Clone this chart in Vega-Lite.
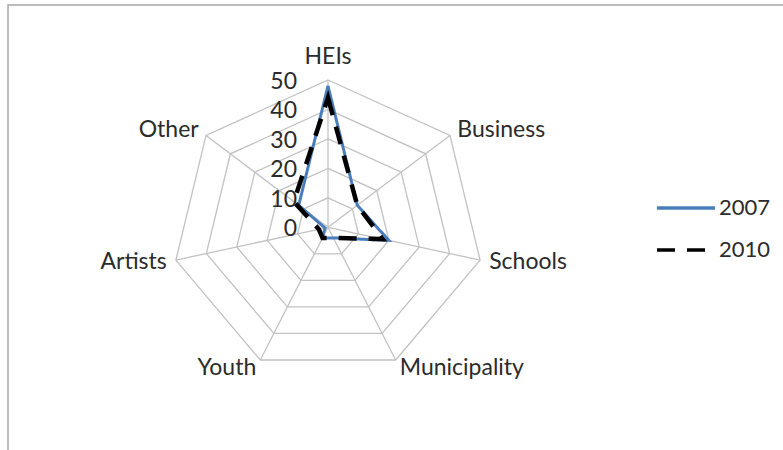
{
  "$schema": "https://vega.github.io/schema/vega-lite/v6.json",
  "width": 790,
  "height": 460,
  "autosize": "none",
  "padding": {"left": 8, "top": 5, "right": 0, "bottom": 0},
  "config": {
    "view": {"stroke": "#a6a6a6", "strokeWidth": 1.5},
    "font": "Lato",
    "text": {"font": "Lato", "fontSize": 23, "color": "#2b2b2b"}
  },
  "datasets": {
    "series": [
      {"cat": "HEIs", "year": "2007", "value": 48},
      {"cat": "Business", "year": "2007", "value": 12},
      {"cat": "Schools", "year": "2007", "value": 20},
      {"cat": "Municipality", "year": "2007", "value": 4},
      {"cat": "Youth", "year": "2007", "value": 4},
      {"cat": "Artists", "year": "2007", "value": 1},
      {"cat": "Other", "year": "2007", "value": 12},
      {"cat": "HEIs", "year": "2010", "value": 44},
      {"cat": "Business", "year": "2010", "value": 12},
      {"cat": "Schools", "year": "2010", "value": 18},
      {"cat": "Municipality", "year": "2010", "value": 4},
      {"cat": "Youth", "year": "2010", "value": 4},
      {"cat": "Artists", "year": "2010", "value": 3},
      {"cat": "Other", "year": "2010", "value": 14}
    ],
    "cats": [
      {"cat": "HEIs", "value": 50},
      {"cat": "Business", "value": 50},
      {"cat": "Schools", "value": 50},
      {"cat": "Municipality", "value": 50},
      {"cat": "Youth", "value": 50},
      {"cat": "Artists", "value": 50},
      {"cat": "Other", "value": 50}
    ],
    "rings": [
      {"cat": "HEIs", "value": 10}, {"cat": "Business", "value": 10}, {"cat": "Schools", "value": 10}, {"cat": "Municipality", "value": 10}, {"cat": "Youth", "value": 10}, {"cat": "Artists", "value": 10}, {"cat": "Other", "value": 10},
      {"cat": "HEIs", "value": 20}, {"cat": "Business", "value": 20}, {"cat": "Schools", "value": 20}, {"cat": "Municipality", "value": 20}, {"cat": "Youth", "value": 20}, {"cat": "Artists", "value": 20}, {"cat": "Other", "value": 20},
      {"cat": "HEIs", "value": 30}, {"cat": "Business", "value": 30}, {"cat": "Schools", "value": 30}, {"cat": "Municipality", "value": 30}, {"cat": "Youth", "value": 30}, {"cat": "Artists", "value": 30}, {"cat": "Other", "value": 30},
      {"cat": "HEIs", "value": 40}, {"cat": "Business", "value": 40}, {"cat": "Schools", "value": 40}, {"cat": "Municipality", "value": 40}, {"cat": "Youth", "value": 40}, {"cat": "Artists", "value": 40}, {"cat": "Other", "value": 40},
      {"cat": "HEIs", "value": 50}, {"cat": "Business", "value": 50}, {"cat": "Schools", "value": 50}, {"cat": "Municipality", "value": 50}, {"cat": "Youth", "value": 50}, {"cat": "Artists", "value": 50}, {"cat": "Other", "value": 50}
    ],
    "ticks": [
      {"cat": "HEIs", "value": 0}, {"cat": "HEIs", "value": 10}, {"cat": "HEIs", "value": 20},
      {"cat": "HEIs", "value": 30}, {"cat": "HEIs", "value": 40}, {"cat": "HEIs", "value": 50}
    ]
  },
  "encoding": {
    "x": {"field": "px", "type": "quantitative", "scale": {"domain": [-102.56, 150.64], "nice": false, "zero": false}, "axis": null},
    "y": {"field": "py", "type": "quantitative", "scale": {"domain": [-80.69, 75.46], "nice": false, "zero": false}, "axis": null}
  },
  "layer": [
    {
      "data": {"name": "rings"},
      "transform": [
        {"calculate": "indexof(['HEIs','Business','Schools','Municipality','Youth','Artists','Other'], datum.cat)", "as": "idx"},
        {"calculate": "datum.value*sin(datum.idx*2*PI/7)", "as": "px"},
        {"calculate": "datum.value*cos(datum.idx*2*PI/7)", "as": "py"}
      ],
      "mark": {"type": "line", "interpolate": "linear-closed", "stroke": "#c2c2c2", "strokeWidth": 1.3},
      "encoding": {
        "detail": {"field": "value", "type": "nominal"},
        "order": {"field": "idx", "type": "quantitative"}
      }
    },
    {
      "data": {"name": "cats"},
      "transform": [
        {"calculate": "indexof(['HEIs','Business','Schools','Municipality','Youth','Artists','Other'], datum.cat)", "as": "idx"},
        {"calculate": "datum.value*sin(datum.idx*2*PI/7)", "as": "px"},
        {"calculate": "datum.value*cos(datum.idx*2*PI/7)", "as": "py"}
      ],
      "mark": {"type": "rule", "stroke": "#c2c2c2", "strokeWidth": 1.3},
      "encoding": {
        "x2": {"datum": 0},
        "y2": {"datum": 0}
      }
    },
    {
      "data": {"name": "series"},
      "transform": [
        {"filter": "datum.year == '2007'"},
        {"calculate": "indexof(['HEIs','Business','Schools','Municipality','Youth','Artists','Other'], datum.cat)", "as": "idx"},
        {"calculate": "datum.value*sin(datum.idx*2*PI/7)", "as": "px"},
        {"calculate": "datum.value*cos(datum.idx*2*PI/7)", "as": "py"}
      ],
      "mark": {"type": "line", "interpolate": "linear-closed", "strokeWidth": 3},
      "encoding": {
        "order": {"field": "idx", "type": "quantitative"},
        "color": {"field": "year", "type": "nominal", "scale": {"domain": ["2007", "2010"], "range": ["#4a7ebb", "#000000"]},
          "legend": {"title": null, "orient": "none", "legendX": 647, "legendY": 172, "symbolType": "stroke", "symbolSize": 3364, "symbolStrokeWidth": 3.5, "labelFontSize": 22, "labelFont": "Lato", "labelColor": "#2b2b2b", "labelOffset": 2, "rowPadding": -25}},
        "strokeDash": {"field": "year", "type": "nominal", "scale": {"domain": ["2007", "2010"], "range": [[1, 0], [18, 12]]}}
      }
    },
    {
      "data": {"name": "series"},
      "transform": [
        {"filter": "datum.year == '2010'"},
        {"calculate": "indexof(['HEIs','Business','Schools','Municipality','Youth','Artists','Other'], datum.cat)", "as": "idx"},
        {"calculate": "datum.value*sin(datum.idx*2*PI/7)", "as": "px"},
        {"calculate": "datum.value*cos(datum.idx*2*PI/7)", "as": "py"}
      ],
      "mark": {"type": "line", "interpolate": "linear-closed", "strokeWidth": 4.5},
      "encoding": {
        "order": {"field": "idx", "type": "quantitative"},
        "color": {"field": "year", "type": "nominal", "scale": {"domain": ["2007", "2010"], "range": ["#4a7ebb", "#000000"]}},
        "strokeDash": {"field": "year", "type": "nominal", "scale": {"domain": ["2007", "2010"], "range": [[1, 0], [14, 9]]}}
      }
    },
    {
      "data": {"name": "ticks"},
      "transform": [
        {"calculate": "0", "as": "px"},
        {"calculate": "datum.value", "as": "py"}
      ],
      "mark": {"type": "text", "align": "right", "baseline": "middle", "dx": -31, "dy": 2},
      "encoding": {"text": {"field": "value", "type": "quantitative"}}
    },
    {
      "data": {"name": "cats"},
      "transform": [
        {"filter": "datum.cat == 'HEIs'"},
        {"calculate": "0", "as": "px"},
        {"calculate": "53", "as": "py"}
      ],
      "mark": {"type": "text", "align": "center", "baseline": "alphabetic", "dy": -7},
      "encoding": {"text": {"field": "cat", "type": "nominal"}}
    },
    {
      "data": {"name": "cats"},
      "transform": [
        {"filter": "indexof(['Business','Schools','Municipality'], datum.cat) >= 0"},
        {"calculate": "indexof(['HEIs','Business','Schools','Municipality','Youth','Artists','Other'], datum.cat)", "as": "idx"},
        {"calculate": "53*sin(datum.idx*2*PI/7)", "as": "px"},
        {"calculate": "53*cos(datum.idx*2*PI/7)", "as": "py"}
      ],
      "mark": {"type": "text", "align": "left", "baseline": "middle"},
      "encoding": {"text": {"field": "cat", "type": "nominal"}}
    },
    {
      "data": {"name": "cats"},
      "transform": [
        {"filter": "indexof(['Youth','Artists','Other'], datum.cat) >= 0"},
        {"calculate": "indexof(['HEIs','Business','Schools','Municipality','Youth','Artists','Other'], datum.cat)", "as": "idx"},
        {"calculate": "53*sin(datum.idx*2*PI/7)", "as": "px"},
        {"calculate": "53*cos(datum.idx*2*PI/7)", "as": "py"}
      ],
      "mark": {"type": "text", "align": "right", "baseline": "middle"},
      "encoding": {"text": {"field": "cat", "type": "nominal"}}
    }
  ]
}
